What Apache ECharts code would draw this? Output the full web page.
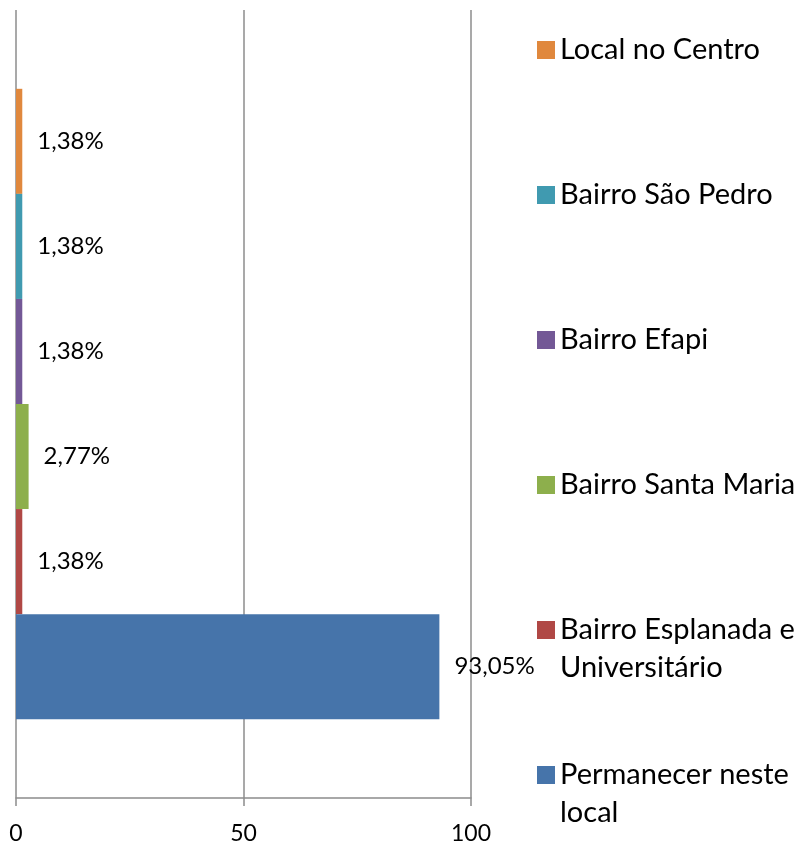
<!DOCTYPE html>
<html>
<head>
<meta charset="utf-8">
<script src="https://cdn.jsdelivr.net/npm/echarts@6/dist/echarts.min.js"></script>
<style>
  html, body { margin: 0; padding: 0; background: #fff; }
  #chart { width: 806px; height: 846px; }
</style>
</head>
<body>
<div id="chart"></div>
<script>
// series listed top to bottom as they appear in the chart
var seriesNames = [
    'Local no Centro',
    'Bairro São Pedro',
    'Bairro Efapi',
    'Bairro Santa Maria',
    'Bairro Esplanada e\nUniversitário',
    'Permanecer neste\nlocal'
];
var seriesValues = [1.38, 1.38, 1.38, 2.77, 1.38, 93.05];
var seriesColors = ['#E0883D', '#409AB0', '#735896', '#8DAF4C', '#B04845', '#4674AA'];
var category = [''];
var xTicks = [0, 50, 100];

// top of each legend box on the right side
var legendTops = [31, 176, 321, 466, 573, 718];

var font = 'Lato';
var gridColor = '#8c8c8c';

var series = seriesNames.map(function (name, i) {
    return {
        name: name,
        type: 'bar',
        data: [seriesValues[i]],
        barGap: '0%',
        barCategoryGap: '20%',
        itemStyle: { color: seriesColors[i] },
        label: {
            show: true,
            position: 'right',
            distance: 15,
            fontFamily: font,
            fontSize: 24,
            color: '#000',
            formatter: function (p) {
                return p.value.toFixed(2).replace('.', ',') + '%';
            }
        },
        emphasis: { disabled: true },
        animation: false
    };
});

var legends = seriesNames.map(function (name, i) {
    var multi = name.indexOf('\n') >= 0;
    return {
        data: [name],
        left: 537,
        top: legendTops[i],
        padding: 0,
        itemWidth: 18,
        itemHeight: 18,
        icon: 'rect',
        selectedMode: false,
        // empty first line keeps the square beside the first text line
        formatter: function (n) { return multi ? '\n' + n : n; },
        textStyle: {
            fontFamily: font,
            fontSize: 29,
            lineHeight: 38,
            color: '#000'
        }
    };
});

var option = {
    backgroundColor: '#fff',
    animation: false,
    grid: { left: 16, right: 335, top: 10, bottom: 48 },
    legend: legends,
    xAxis: {
        type: 'value',
        min: xTicks[0],
        max: xTicks[xTicks.length - 1],
        interval: xTicks[1] - xTicks[0],
        axisLine: { show: true, lineStyle: { color: gridColor, width: 1.5 } },
        axisTick: { show: true, length: 8, lineStyle: { color: gridColor, width: 1.5 } },
        axisLabel: { fontFamily: font, fontSize: 23, color: '#000', margin: 24 },
        splitLine: { show: true, lineStyle: { color: gridColor, width: 1.5 } }
    },
    yAxis: {
        type: 'category',
        data: category,
        axisLine: { show: false },
        axisTick: { show: false },
        axisLabel: { show: false }
    },
    series: series
};

var myChart = echarts.init(document.getElementById('chart'));
myChart.setOption(option);
</script>
</body>
</html>
